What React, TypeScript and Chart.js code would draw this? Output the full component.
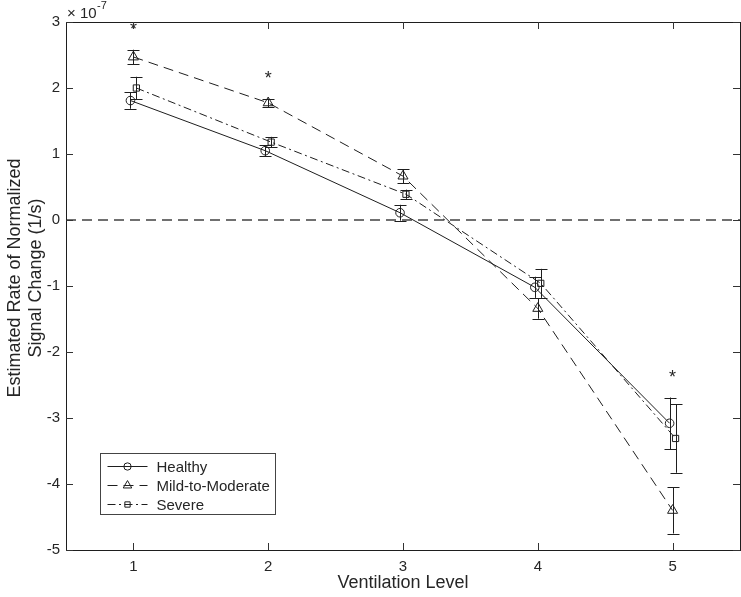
import React, { useEffect, useRef } from 'react';
import { Chart, registerables } from 'chart.js';

Chart.register(...registerables);

// ---- data (units of 1e-7 1/s) ----
const levels = [1, 2, 3, 4, 5];
const seriesNames = ['Healthy', 'Mild-to-Moderate', 'Severe'];
const healthy = [1.81, 1.05, 0.11, -1.02, -3.08];
const healthyErr = [0.125, 0.08, 0.12, 0.16, 0.39];
const mild = [2.47, 1.775, 0.665, -1.34, -4.4];
const mildErr = [0.11, 0.065, 0.105, 0.155, 0.35];
const severe = [2.0, 1.18, 0.39, -0.96, -3.31];
const severeErr = [0.17, 0.08, 0.07, 0.22, 0.52];
const xOffsets = [-0.022, 0, 0.022];
const starLevels = [1, 2, 5];
const starValues = [2.9, 2.16, -2.36];
const yTicks = [-5, -4, -3, -2, -1, 0, 1, 2, 3];
const xMin = 0.5;
const xMax = 5.5;
const exponentText = '-7';
const yTitleLines = ['Estimated Rate of Normalized', 'Signal Change (1/s)'];
const xTitle = 'Ventilation Level';

const FONT = "'Liberation Sans', Arial, Helvetica, sans-serif";
const TEXT = '#262626';
const INK = '#1e1e1e';

const seriesValues = [healthy, mild, severe];
const seriesErrs = [healthyErr, mildErr, severeErr];
const seriesStyles = [
  { dash: [] as number[], marker: 'circle', radius: 4.3 },
  { dash: [10, 6], marker: 'triangle', radius: 5.8 },
  { dash: [8, 3.5, 2, 3.5], marker: 'rect', radius: 4.4 },
];

function drawMarker(ctx: CanvasRenderingContext2D, kind: string, x: number, y: number, r: number) {
  ctx.beginPath();
  if (kind === 'circle') {
    ctx.arc(x, y, r, 0, Math.PI * 2);
  } else if (kind === 'triangle') {
    const h = r * 1.5;
    const w = r * Math.sqrt(3) / 2;
    ctx.moveTo(x, y - r);
    ctx.lineTo(x + w, y - r + h);
    ctx.lineTo(x - w, y - r + h);
    ctx.closePath();
  } else {
    const s = r / Math.SQRT2;
    ctx.rect(x - s, y - s, 2 * s, 2 * s);
  }
  ctx.stroke();
}

const overlayPlugin = {
  id: 'overlay',
  afterDatasetsDraw(chart: any) {
    const { ctx, scales } = chart;
    const xs = scales.x;
    const ys = scales.y;
    ctx.save();
    // error bars
    ctx.strokeStyle = INK;
    ctx.lineWidth = 1;
    ctx.setLineDash([]);
    seriesValues.forEach((vals, s) => {
      vals.forEach((v, i) => {
        const px = Math.round(xs.getPixelForValue(levels[i] + xOffsets[s])) + 0.5;
        const top = ys.getPixelForValue(v + seriesErrs[s][i]);
        const bot = ys.getPixelForValue(v - seriesErrs[s][i]);
        ctx.beginPath();
        ctx.moveTo(px, top);
        ctx.lineTo(px, bot);
        ctx.moveTo(px - 6, Math.round(top) + 0.5);
        ctx.lineTo(px + 6, Math.round(top) + 0.5);
        ctx.moveTo(px - 6, Math.round(bot) + 0.5);
        ctx.lineTo(px + 6, Math.round(bot) + 0.5);
        ctx.stroke();
      });
    });
    // asterisks
    ctx.fillStyle = TEXT;
    ctx.font = `18px ${FONT}`;
    ctx.textAlign = 'center';
    ctx.textBaseline = 'alphabetic';
    starLevels.forEach((lv, i) => {
      const px = xs.getPixelForValue(lv);
      const py = ys.getPixelForValue(starValues[i]);
      ctx.fillText('*', px, py + 0.38 * 18);
    });
    ctx.restore();
  },
  afterDraw(chart: any) {
    const { ctx, chartArea, scales } = chart;
    const xs = scales.x;
    const ys = scales.y;
    const { left, right, top, bottom } = chartArea;
    ctx.save();
    ctx.setLineDash([]);
    // box
    ctx.strokeStyle = INK;
    ctx.lineWidth = 1;
    ctx.strokeRect(Math.round(left) + 0.5, Math.round(top) + 0.5, Math.round(right - left), Math.round(bottom - top));
    // inward ticks
    const tl = 7;
    ctx.strokeStyle = '#333';
    ctx.beginPath();
    levels.forEach((v) => {
      const px = Math.round(xs.getPixelForValue(v)) + 0.5;
      ctx.moveTo(px, bottom);
      ctx.lineTo(px, bottom - tl);
      ctx.moveTo(px, top);
      ctx.lineTo(px, top + tl);
    });
    yTicks.forEach((v) => {
      const py = Math.round(ys.getPixelForValue(v)) + 0.5;
      ctx.moveTo(left, py);
      ctx.lineTo(left + tl, py);
      ctx.moveTo(right, py);
      ctx.lineTo(right - tl, py);
    });
    ctx.stroke();

    // exponent label
    ctx.fillStyle = TEXT;
    ctx.textAlign = 'left';
    ctx.textBaseline = 'alphabetic';
    ctx.font = `15px ${FONT}`;
    const ex = left + 1;
    const ey = top - 4.5;
    ctx.fillText('\u00d7 10', ex, ey);
    const w = ctx.measureText('\u00d7 10').width;
    ctx.font = `11px ${FONT}`;
    ctx.fillText(exponentText, ex + w + 0.5, ey - 9);

    // y title
    ctx.save();
    ctx.font = `18px ${FONT}`;
    ctx.textAlign = 'center';
    ctx.textBaseline = 'middle';
    ctx.translate(0, (top + bottom) / 2 - 8);
    ctx.rotate(-Math.PI / 2);
    yTitleLines.forEach((line, i) => {
      ctx.fillText(line, 0, 15.5 + i * 21);
    });
    ctx.restore();

    // legend
    const bx = Math.round(left + 34) + 0.5;
    const by = Math.round(bottom - 97) + 0.5;
    const bw = 175;
    const bh = 61;
    ctx.fillStyle = '#ffffff';
    ctx.fillRect(bx, by, bw, bh);
    ctx.strokeStyle = '#444';
    ctx.lineWidth = 1;
    ctx.strokeRect(bx, by, bw, bh);
    ctx.font = `15px ${FONT}`;
    ctx.textBaseline = 'middle';
    ctx.textAlign = 'left';
    seriesNames.forEach((name, s) => {
      const cy = Math.round(by + 12 + s * 19) + 0.5;
      const st = seriesStyles[s];
      ctx.strokeStyle = INK;
      ctx.setLineDash(st.dash);
      ctx.beginPath();
      ctx.moveTo(bx + 7, cy);
      ctx.lineTo(bx + 47, cy);
      ctx.stroke();
      ctx.setLineDash([]);
      drawMarker(ctx, st.marker, bx + 27, cy, st.radius * 0.85);
      ctx.fillStyle = TEXT;
      ctx.fillText(name, bx + 56, cy + 1);
    });
    ctx.restore();
  },
};

export default function App() {
  const ref = useRef<HTMLCanvasElement | null>(null);
  useEffect(() => {
    if (!ref.current) return;
    const datasets: any[] = [
      {
        label: 'zero',
        data: [{ x: xMin, y: 0 }, { x: xMax, y: 0 }],
        borderColor: '#707070',
        borderWidth: 2,
        borderDash: [10, 6],
        pointRadius: 0,
        order: 5,
      },
    ];
    seriesValues.forEach((vals, s) => {
      const st = seriesStyles[s];
      datasets.push({
        label: seriesNames[s],
        data: levels.map((lv, i) => ({ x: lv + xOffsets[s], y: vals[i] })),
        borderColor: INK,
        borderWidth: 1,
        borderDash: st.dash,
        pointStyle: st.marker,
        pointRadius: st.radius,
        pointBorderColor: INK,
        pointBorderWidth: 1,
        pointBackgroundColor: 'rgba(0,0,0,0)',
        tension: 0,
        fill: false,
      });
    });
    const chart = new Chart(ref.current, {
      type: 'line',
      data: { datasets },
      options: {
        animation: false,
        responsive: false,
        maintainAspectRatio: false,
        layout: { autoPadding: false, padding: { top: 22, right: 1, left: 0, bottom: 0 } },
        plugins: { legend: { display: false }, tooltip: { enabled: false } },
        scales: {
          x: {
            type: 'linear',
            min: xMin,
            max: xMax,
            afterBuildTicks: (sc: any) => { sc.ticks = levels.map((v) => ({ value: v })); },
            afterFit: (sc: any) => { sc.height = 47; sc.paddingLeft = 0; sc.paddingRight = 0; },
            grid: { display: false, drawTicks: false },
            border: { display: false },
            ticks: { color: TEXT, font: { family: FONT, size: 15 }, padding: 8, maxRotation: 0, autoSkip: false, callback: (v: any) => String(v) },
            title: { display: true, text: xTitle, color: TEXT, font: { family: FONT, size: 18 }, padding: { top: 0, bottom: 3 } },
          },
          y: {
            type: 'linear',
            min: -5,
            max: 3,
            afterBuildTicks: (sc: any) => { sc.ticks = yTicks.map((v) => ({ value: v })); },
            afterFit: (sc: any) => { sc.width = 66; sc.paddingTop = 0; sc.paddingBottom = 0; },
            grid: { display: false, drawTicks: false },
            border: { display: false },
            ticks: { color: TEXT, font: { family: FONT, size: 15 }, padding: 6, callback: (v: any) => String(v) },
          },
        },
      },
      plugins: [overlayPlugin],
    });
    return () => chart.destroy();
  }, []);
  return (
    <div style={{ position: 'absolute', left: 0, top: 0, width: 741, height: 597, overflow: 'hidden' }}>
      <canvas ref={ref} width={741} height={597} style={{ display: 'block' }} />
    </div>
  );
}
